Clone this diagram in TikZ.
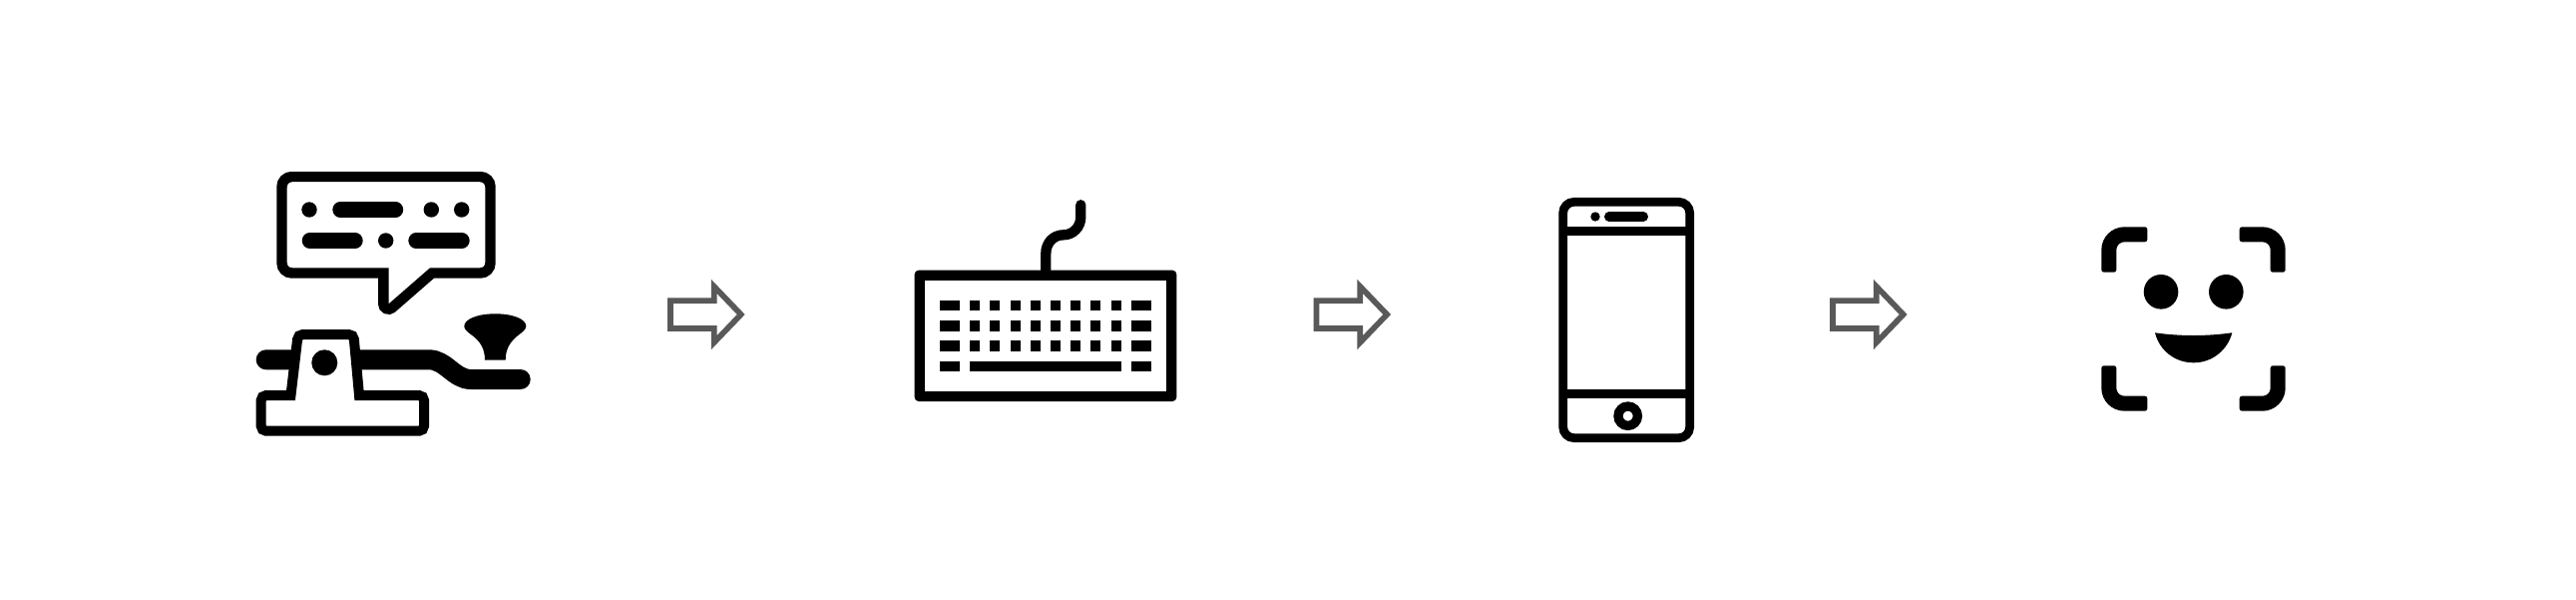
\documentclass[tikz,border=0pt]{standalone}
\definecolor{arrowgray}{HTML}{595959}
\tikzset{
  ink/.style={black,line join=miter,miter limit=10},
  hollowarrow/.style={draw=arrowgray,line width=5.7,line join=miter,miter limit=10,fill=white},
  dotmark/.style={fill=black},
  pill/.style={line width=15.4,line cap=round,black},
  keycap/.style={fill=black},
  facecorner/.pic={
    \fill (23,0) -- (43.5,0) .. controls (45,0) and (46,1) .. (46,2.5) -- (46,12.5) .. controls (46,14) and (45,15) .. (43.5,15) -- (23,15) .. controls (18.6,15) and (15,18.6) .. (15,23) -- (15,42.9) .. controls (15,44.4) and (14,45.4) .. (12.5,45.4) -- (2.5,45.4) .. controls (1,45.4) and (0,44.4) .. (0,42.9) -- (0,23) .. controls (0,10.3) and (10.3,0) .. (23,0) -- cycle;
  }
}
\begin{document}
\begin{tikzpicture}[x=1pt,y=-1pt]
\useasboundingbox (0,0) rectangle (2582,600);
\fill[white] (0,0) rectangle (2582,600);

% speech bubble
\draw[ink,line width=10.4] (384.3,273.5) -- (292.5,273.5) .. controls (287,273.5) and (282.5,269) .. (282.5,263.5) -- (282.5,187) .. controls (282.5,181.5) and (287,177) .. (292.5,177) -- (481.5,177) .. controls (487,177) and (491.5,181.5) .. (491.5,187) -- (491.5,263.5) .. controls (491.5,269) and (487,273.5) .. (481.5,273.5) -- (433,273.5) -- (392.9,308.4) .. controls (391.36,309.74) and (389.2,310.08) .. (387.34,309.23) .. controls (385.48,308.38) and (384.3,306.54) .. (384.3,304.5) -- cycle;
\foreach \cx in {310,432.3,462.7} \fill[dotmark] (\cx,210) circle[radius=7.7];
\draw[pill] (341,210) -- (396.5,210);
\fill[dotmark] (386.7,241) circle[radius=7.7];
\draw[pill] (310.4,241) -- (356,241);
\draw[pill] (417,241) -- (463,241);

% morse key
\draw[line width=20,line cap=round] (266.7,360.3) -- (430,360.3) .. controls (447,360.3) and (455,380) .. (472,380) -- (521.7,380);
\fill (486,360.7) .. controls (486,350) and (482,342) .. (472,335) .. controls (467,331.5) and (465.3,329) .. (465.3,326.7) .. controls (465.3,320) and (478,314.3) .. (496.3,314.3) .. controls (515,314.3) and (527.3,320) .. (527.3,326.7) .. controls (527.3,329) and (525.5,331.5) .. (520.5,335) .. controls (511,342) and (506.7,350) .. (506.7,360.7) -- cycle;
\draw[ink,line width=10,fill=white] (291.5,396) -- (266.7,396) .. controls (263.94,396) and (261.7,398.24) .. (261.7,401) -- (261.7,426.7) .. controls (261.7,429.46) and (263.94,431.7) .. (266.7,431.7) -- (420,431.7) .. controls (422.76,431.7) and (425,429.46) .. (425,426.7) -- (425,401) .. controls (425,398.24) and (422.76,396) .. (420,396) -- (360,396) -- (354.9,340) .. controls (354.6,337) and (352.5,335) .. (349.5,335) -- (303.5,335) .. controls (300.5,335) and (298.4,337) .. (298.1,340) -- cycle;
\fill[dotmark] (325.3,363.3) circle[radius=13];

% keyboard
\draw[line width=10.3,line cap=round] (1083.3,205.2) -- (1083.3,217) .. controls (1083.3,228) and (1075,235.3) .. (1066,235.3) .. controls (1056,235.3) and (1048.3,243) .. (1048.3,254) -- (1048.3,275);
\fill[rounded corners=4] (916.7,270.7) rectangle (1179.3,402);
\fill[white] (926.7,280.7) rectangle (1169.3,392);
\foreach \ky in {301,321.3,341.3}{
  \fill[keycap] (942,\ky) rectangle ++(20.3,10.4);
  \fill[keycap] (1134,\ky) rectangle ++(20.3,10.4);
  \foreach \kx in {0,...,7} \fill[keycap] ({972.3+\kx*20.17},\ky) rectangle ++(10,10.4);
}
\fill[keycap] (942,361.7) rectangle ++(20.3,10.4);
\fill[keycap] (972.3,361.7) rectangle (1124,372.1);
\fill[keycap] (1134,361.7) rectangle ++(20.3,10.4);

% phone
\draw[line width=8.7,rounded corners=11] (1566.7,202.3) rectangle (1693.7,438.7);
\draw[line width=9] (1566.7,231.8) -- (1693.7,231.8);
\draw[line width=9] (1566.7,394.4) -- (1693.7,394.4);
\draw[line width=9.3] (1631.7,416.7) circle[radius=9.7];
\fill[dotmark] (1599,217) circle[radius=4.7];
\draw[line width=9.4,line cap=round] (1612.7,217) -- (1647.3,217);

% face
\pic at (2106.3,227.3) {facecorner};
\pic[xscale=-1] at (2290.7,227.3) {facecorner};
\pic[yscale=-1] at (2106.3,411.7) {facecorner};
\pic[xscale=-1,yscale=-1] at (2290.7,411.7) {facecorner};
\fill[dotmark] (2166,292.3) circle[radius=17.3];
\fill[dotmark] (2231.3,292.3) circle[radius=17.3];
\fill (2160,333.3) .. controls (2185,336.9) and (2212,336.9) .. (2237.3,333.3) .. controls (2233,350) and (2218,363.3) .. (2198.7,363.3) .. controls (2179,363.3) and (2164,350) .. (2160,333.3) -- cycle;

% arrows
\foreach \ax in {669,1316.5,1834}{
  \draw[hollowarrow,xshift=\ax] (3,301.2) -- (46.8,301.2) -- (46.8,287) -- (73.7,315) -- (46.8,343) -- (46.8,329) -- (3,329) -- cycle;
}
\end{tikzpicture}
\end{document}
